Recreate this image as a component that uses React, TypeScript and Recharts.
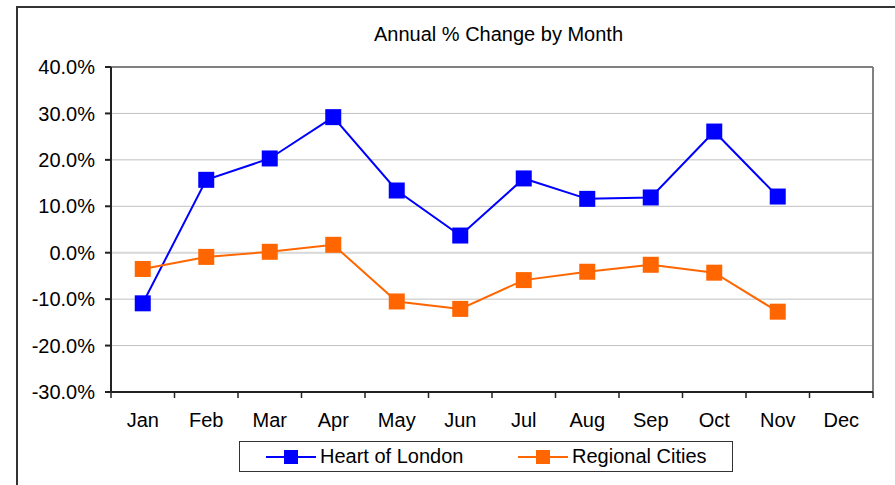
import React from 'react';
import { LineChart, Line, XAxis, YAxis, CartesianGrid, ReferenceLine, Legend } from 'recharts';

const months = ['Jan', 'Feb', 'Mar', 'Apr', 'May', 'Jun', 'Jul', 'Aug', 'Sep', 'Oct', 'Nov', 'Dec'];
const heartOfLondon: (number | null)[] = [-10.9, 15.7, 20.3, 29.2, 13.4, 3.7, 16.0, 11.6, 11.9, 26.1, 12.1, null];
const regionalCities: (number | null)[] = [-3.5, -0.9, 0.2, 1.7, -10.5, -12.1, -5.9, -4.1, -2.6, -4.3, -12.7, null];
const yTicks = [-30, -20, -10, 0, 10, 20, 30, 40];
const boundaryTicks = [0, 1, 2, 3, 4, 5, 6, 7, 8, 9, 10, 11, 12];
const seriesNames = ['Heart of London', 'Regional Cities'];
const seriesColors = ['#0000FF', '#FF6600'];

const data = months.map((m, i) => ({ month: m, hol: heartOfLondon[i], rc: regionalCities[i], pos: i + 0.5 }));

const FONT = 'Liberation Sans, Arial, sans-serif';
const FS = 20;

const squareDot = (color: string, size: number) => (props: any) => {
  const { cx, cy, index } = props;
  if (cx == null || cy == null || props.value == null) return <g key={index} />;
  return <rect key={index} x={cx - size / 2} y={cy - size / 2} width={size} height={size} fill={color} />;
};

const LegendContent = () => (
  <div
    style={{
      boxSizing: 'border-box',
      width: 494,
      height: 31,
      border: '1px solid #333',
      background: '#fff',
      position: 'relative',
      fontFamily: FONT,
      fontSize: FS,
      color: '#000',
    }}
  >
    {seriesNames.map((name, i) => (
      <div key={name} style={{ position: 'absolute', left: i === 0 ? 26 : 278, top: 0, height: 29, display: 'flex', alignItems: 'center' }}>
        <svg width={50} height={16} style={{ display: 'block' }}>
          <line x1={0} y1={8} x2={50} y2={8} stroke={seriesColors[i]} strokeWidth={2} />
          <rect x={18} y={1} width={14} height={14} fill={seriesColors[i]} />
        </svg>
        <span style={{ marginLeft: 4, whiteSpace: 'nowrap' }}>{name}</span>
      </div>
    ))}
  </div>
);

export default function App() {
  return (
    <div style={{ position: 'absolute', left: 0, top: 0, width: 895, height: 485, overflow: 'hidden', background: '#fff' }}>
      <div
        style={{
          position: 'absolute',
          left: 16,
          top: 6,
          width: 900,
          height: 500,
          border: '2px solid #333',
          boxSizing: 'border-box',
        }}
      />
      <div
        style={{
          position: 'absolute',
          left: 0,
          width: 997,
          top: 23,
          lineHeight: '22px',
          textAlign: 'center',
          fontFamily: FONT,
          fontSize: FS,
          color: '#000',
        }}
      >
        Annual % Change by Month
      </div>
      <div style={{ position: 'absolute', left: 0, top: 0 }}>
        <LineChart width={895} height={485} data={data} margin={{ top: 67, right: 22, bottom: 32, left: 18 }}>
          <CartesianGrid horizontal vertical={false} stroke="#c0c0c0" strokeWidth={1} />
          <ReferenceLine y={0} stroke="#d9d9d9" strokeWidth={2} />
          <ReferenceLine y={40} stroke="#808080" strokeWidth={2} />
          <XAxis
            xAxisId="b"
            dataKey="pos"
            type="number"
            domain={[0, 12]}
            ticks={boundaryTicks}
            interval={0}
            height={8}
            tickSize={6}
            tickLine={{ stroke: '#222', strokeWidth: 1.5 }}
            tickFormatter={() => ''}
            stroke="#222"
            strokeWidth={2}
            orientation="bottom"
          />
          <XAxis
            dataKey="month"
            xAxisId="cat"
            height={22}
            tickLine={false}
            axisLine={false}
            interval={0}
            tickSize={0}
            tickMargin={13}
            padding={{ left: 31.75, right: 31.75 }}
            tick={{ fontSize: FS, fill: '#000', fontFamily: FONT }}
          />
          <ReferenceLine xAxisId="b" x={12} stroke="#808080" strokeWidth={2} />
          <YAxis
            domain={[-30, 40]}
            ticks={yTicks}
            width={93}
            interval={0}
            tickSize={6}
            tickMargin={10}
            stroke="#222"
            strokeWidth={2}
            tickFormatter={(v: number) => `${v.toFixed(1)}%`}
            tick={{ fontSize: FS, fill: '#000', fontFamily: FONT }}
          />
          <Line
            xAxisId="cat"
            type="linear"
            dataKey="hol"
            name={seriesNames[0]}
            stroke={seriesColors[0]}
            strokeWidth={2}
            dot={squareDot(seriesColors[0], 16)}
            activeDot={false}
            isAnimationActive={false}
            connectNulls={false}
          />
          <Line
            xAxisId="cat"
            type="linear"
            dataKey="rc"
            name={seriesNames[1]}
            stroke={seriesColors[1]}
            strokeWidth={2}
            dot={squareDot(seriesColors[1], 16)}
            activeDot={false}
            isAnimationActive={false}
            connectNulls={false}
          />
          <Legend
            content={<LegendContent />}
            wrapperStyle={{ position: 'absolute', left: 239, top: 441, width: 494, height: 31 }}
          />
        </LineChart>
      </div>
    </div>
  );
}
